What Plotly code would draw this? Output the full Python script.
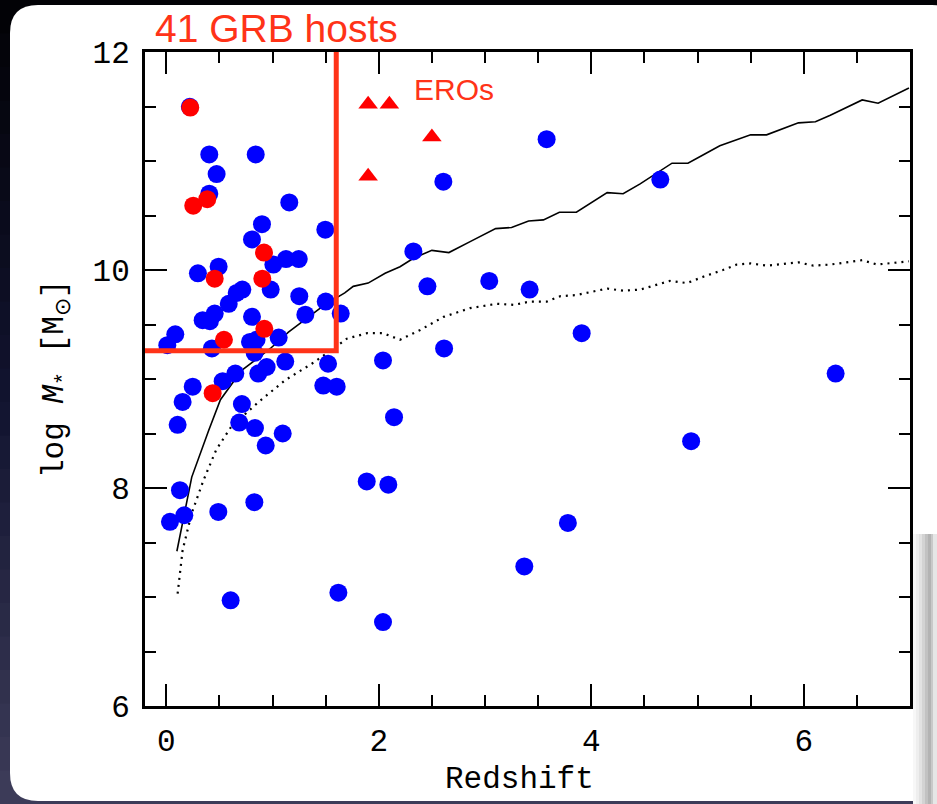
import plotly.graph_objects as go

# ---------------- data ----------------
blue_z = [0.222, 0.405, 0.842, 0.474, 0.405, 2.608, 1.158, 0.901, 1.497, 0.807, 2.326, 1.008,
          1.127, 1.247, 0.493, 0.298, 0.983, 2.458, 0.716, 0.663, 0.588, 1.252, 1.501, 1.642,
          1.309, 0.456, 0.343, 0.411, 0.807, 1.058, 0.788, 0.850, 0.085, 0.010, 0.430, 2.040,
          2.615, 0.832, 1.523, 1.120, 0.945, 0.866, 0.650, 0.531, 0.249, 1.478, 1.604, 0.154,
          0.712, 0.107, 0.687, 0.835, 1.096, 0.936, 2.144, 0.129, 1.887, 2.090, 0.829, 0.490,
          0.170, 0.035, 0.606, 1.620, 2.040, 3.580, 4.650, 3.040, 3.420, 3.910, 6.300, 4.940,
          3.780, 3.370]
blue_m = [11.497, 11.06, 11.06, 10.88, 10.70, 10.81, 10.62, 10.42, 10.37, 10.28, 10.17, 10.05,
          10.10, 10.10, 10.03, 9.97, 9.82, 9.85, 9.82, 9.79, 9.69, 9.76, 9.71, 9.60,
          9.59, 9.60, 9.54, 9.53, 9.57, 9.38, 9.34, 9.36, 9.41, 9.31, 9.28, 9.17,
          9.28, 9.24, 9.14, 9.16, 9.11, 9.05, 9.05, 8.98, 8.93, 8.94, 8.93, 8.79,
          8.77, 8.58, 8.60, 8.55, 8.50, 8.39, 8.65, 7.98, 8.06, 8.03, 7.87, 7.78,
          7.75, 7.69, 6.97, 7.04, 6.77, 11.20, 10.83, 9.90, 9.82, 9.42, 9.05, 8.43,
          7.68, 7.28]

red_z = [0.226, 0.254, 0.386, 0.920, 0.456, 0.904, 0.923, 0.543, 0.437]
red_m = [11.49, 10.59, 10.65, 10.16, 9.92, 9.92, 9.46, 9.36, 8.87]

ero_z = [1.90, 2.10, 2.50, 1.90]
ero_m = [11.52, 11.52, 11.22, 10.86]

solid_z = [0.10, 0.24, 0.40, 0.51, 0.71, 0.98, 1.15, 1.34, 1.49, 1.68, 1.76, 1.90, 2.06,
           2.20, 2.33, 2.50, 2.66, 2.86, 3.10, 3.25, 3.41, 3.55, 3.70, 3.86, 4.15, 4.30,
           4.46, 4.76, 4.91, 5.06, 5.21, 5.50, 5.65, 5.95, 6.11, 6.25, 6.55, 6.70, 6.99]
solid_m = [7.42, 8.10, 8.53, 8.81, 9.08, 9.28, 9.43, 9.57, 9.68, 9.79, 9.85, 9.88, 9.97,
           10.03, 10.11, 10.18, 10.16, 10.26, 10.38, 10.39, 10.45, 10.46, 10.53, 10.53, 10.71,
           10.70, 10.79, 10.98, 10.98, 11.06, 11.14, 11.24, 11.24, 11.35, 11.36, 11.42, 11.56,
           11.53, 11.67]

dot_z = [0.107, 0.154, 0.24, 0.35, 0.47, 0.63, 0.71, 0.87, 1.12, 1.37, 1.56, 1.70, 1.89,
         2.04, 2.20, 2.39, 2.61, 2.86, 3.11, 3.27, 3.42, 3.58, 3.71, 3.86, 4.15, 4.30, 4.46,
         4.74, 4.90, 5.06, 5.24, 5.37, 5.50, 5.65, 5.95, 6.09, 6.25, 6.55, 6.69, 6.99]
dot_m = [7.03, 7.43, 7.77, 8.07, 8.35, 8.59, 8.65, 8.79, 8.99, 9.14, 9.27, 9.37, 9.42,
         9.42, 9.36, 9.45, 9.57, 9.65, 9.69, 9.68, 9.71, 9.71, 9.76, 9.77, 9.83, 9.81, 9.82,
         9.90, 9.88, 9.94, 10.00, 10.05, 10.06, 10.04, 10.07, 10.04, 10.05, 10.09, 10.05, 10.08]

z_cut = 1.60      # redshift limit of the GRB-host box
m_cut = 9.26      # mass limit of the GRB-host box
x_range = [-0.2, 7.0]
y_range = [6, 12]
x_ticks = [0, 2, 4, 6]
y_ticks = [6, 8, 10, 12]

# ---------------- layout geometry ----------------
FW, FH = 937, 804
L, R, T, B = 145, 27, 52, 98
PW, PH = FW - L - R, FH - T - B

def px(xp):
    return (xp - L) / PW

def py(yp):
    return (FH - B - yp) / PH

RED_LINE = "#ff3318"
MONO = "Liberation Mono"

fig = go.Figure()

fig.add_trace(go.Scatter(x=solid_z, y=solid_m, mode="lines",
                         line=dict(color="black", width=1.6), hoverinfo="skip"))
fig.add_trace(go.Scatter(x=dot_z, y=dot_m, mode="lines",
                         line=dict(color="black", width=2.2, dash="2px,5px"), hoverinfo="skip"))
fig.add_trace(go.Scatter(x=blue_z, y=blue_m, mode="markers",
                         marker=dict(color="#0000ff", size=18, line=dict(width=0))))
fig.add_trace(go.Scatter(x=red_z, y=red_m, mode="markers",
                         marker=dict(color="#ff0000", size=18, line=dict(width=0))))
fig.add_trace(go.Scatter(x=ero_z, y=ero_m, mode="markers",
                         marker=dict(color="#ff0000", size=17, symbol="triangle-up",
                                     line=dict(width=0))))
fig.add_trace(go.Scatter(x=[x_range[0], z_cut, z_cut], y=[m_cut, m_cut, y_range[1]],
                         mode="lines", line=dict(color=RED_LINE, width=5), hoverinfo="skip",
                         cliponaxis=False))

# ---------------- background (dark slide + white panel) ----------------
shapes = []
N = 24
top_c = (2, 2, 5)
mid_c = (18, 20, 48)
bot_c = (62, 61, 90)
for i in range(N):
    f = (i + 0.5) / N
    if f < 0.5:
        g = f / 0.5
        c = [int(top_c[k] + (mid_c[k] - top_c[k]) * g) for k in range(3)]
    else:
        g = (f - 0.5) / 0.5
        c = [int(mid_c[k] + (bot_c[k] - mid_c[k]) * g) for k in range(3)]
    y0p = FH * i / N
    y1p = FH * (i + 1) / N + 1
    shapes.append(dict(type="rect", xref="paper", yref="paper", layer="below",
                       x0=px(0), x1=px(FW), y0=py(y1p), y1=py(y0p),
                       fillcolor="rgb(%d,%d,%d)" % tuple(c), line=dict(width=0)))

# rounded white panel
x0, x1, y0, y1, r = 10, 960, 5, 801, 28
path = ("M {a},{b} L {c},{b} Q {d},{b} {d},{e} L {d},{f} Q {d},{g} {c},{g} "
        "L {a},{g} Q {h},{g} {h},{f} L {h},{e} Q {h},{b} {a},{b} Z").format(
    a=px(x0 + r), b=py(y0), c=px(x1 - r), d=px(x1), e=py(y0 + r), f=py(y1 - r),
    g=py(y1), h=px(x0))
shapes.append(dict(type="path", xref="paper", yref="paper", layer="below", path=path,
                   fillcolor="white", line=dict(width=0)))

# soft shadow of the next slide at the lower right
strips = [(913, 916, "#f7f7f7"), (916, 919, "#eeeeee"), (919, 922, "#e2e2e2"),
          (922, 925, "#d3d3d3"), (925, 928, "#c2c2c2"), (928, 931, "#b3b3b3"),
          (931, 933, "#c9c9c9"), (933, 937, "#e6e6e6")]
for xa, xb, col in strips:
    shapes.append(dict(type="rect", xref="paper", yref="paper", layer="below",
                       x0=px(xa), x1=px(xb), y0=py(FH), y1=py(534),
                       fillcolor=col, line=dict(width=0)))

# ---------------- annotations ----------------
annotations = [
    dict(text="41 GRB hosts", xref="paper", yref="paper", x=px(153), y=py(29),
         xanchor="left", yanchor="middle", showarrow=False,
         font=dict(family="Liberation Sans", size=39, color=RED_LINE)),
    dict(text="EROs", xref="x", yref="y", x=2.31, y=11.66, xanchor="left",
         yanchor="middle", showarrow=False,
         font=dict(family="Liberation Sans", size=30, color=RED_LINE)),
    dict(text="log <i>M</i><sub>*</sub> [M<sub>⊙</sub>]", xref="paper", yref="paper",
         x=px(57), y=py(379), textangle=-90, showarrow=False,
         xanchor="center", yanchor="middle",
         font=dict(family=MONO, size=31, color="black")),
    dict(text="Redshift", xref="paper", yref="paper", x=px(519), y=py(779),
         showarrow=False, xanchor="center", yanchor="middle",
         font=dict(family=MONO, size=31, color="black")),
]

axis_common = dict(showgrid=False, zeroline=False, showline=True, linecolor="black",
                   linewidth=3, mirror="ticks", ticks="inside", ticklen=22, tickwidth=2,
                   tickcolor="black",
                   tickfont=dict(family=MONO, size=31, color="black"))

fig.update_layout(
    width=FW, height=FH,
    margin=dict(l=L, r=R, t=T, b=B),
    paper_bgcolor="#0a0b18",
    plot_bgcolor="white",
    showlegend=False,
    shapes=shapes,
    annotations=annotations,
    xaxis=dict(range=x_range, tickvals=x_ticks, ticktext=[str(v) for v in x_ticks],
               minor=dict(dtick=0.5, tick0=0, ticks="inside", ticklen=11, tickwidth=2,
                          tickcolor="black", showgrid=False),
               ticklabelstandoff=5, **axis_common),
    yaxis=dict(range=y_range, tickvals=y_ticks, ticktext=[str(v) for v in y_ticks],
               minor=dict(dtick=0.5, tick0=0, ticks="inside", ticklen=11, tickwidth=2,
                          tickcolor="black", showgrid=False),
               ticklabelstandoff=6, **axis_common),
)

fig.write_html("out.html")
